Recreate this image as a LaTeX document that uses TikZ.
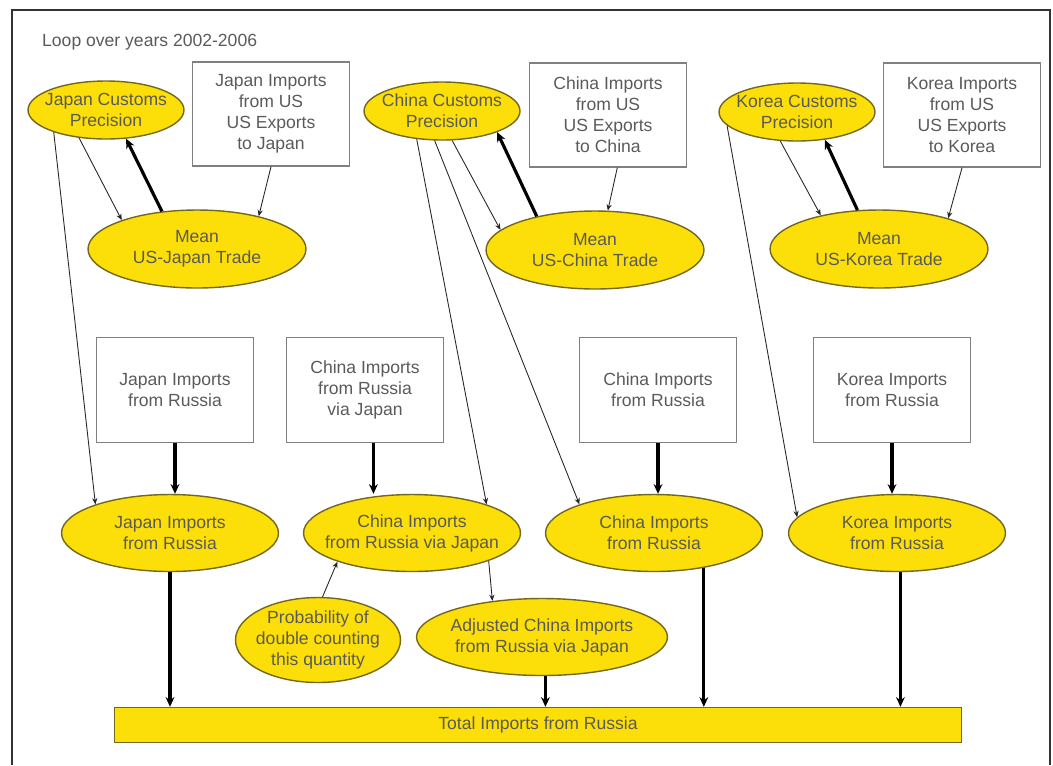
\documentclass[tikz,border=0pt]{standalone}
\usepackage{fontspec}
\setmainfont{Liberation Sans}
\usetikzlibrary{shapes.geometric,arrows.meta}
\definecolor{nodeYellow}{RGB}{252,222,8}
\definecolor{nodeBorder}{RGB}{115,105,30}
\definecolor{boxBorder}{RGB}{128,128,128}
\definecolor{labelGray}{RGB}{90,90,90}
\begin{document}
\begin{tikzpicture}
[x=0.02cm,y=-0.02cm,%
  thinLine/.style={-{Stealth[length=3.6pt,width=3pt]},line width=0.5pt,color=black!85},%
  thickLine/.style={-{Stealth[length=5.5pt,width=5pt]},line width=1.8pt,color=black},%
  ellDecorate/.style={shape=ellipse,draw=nodeBorder,fill=nodeYellow,line width=0.8pt,inner xsep=-7pt,inner ysep=-1pt,align=center,text=labelGray},%
  boxDecorate/.style={shape=rectangle,draw=boxBorder,line width=0.8pt,align=center,text=labelGray,minimum width=3.13cm},%
  font=\fontsize{10}{12}\selectfont]
\useasboundingbox (0,0) rectangle (1053,765);
%% frame and title
\draw[color=black!80,line width=0.8pt] (12,765) -- (12,10) -- (1050,10) -- (1050,765);
\node (title) at (36,42) [anchor=west,text=labelGray] {Loop over years 2002-2006};
%% customs precision
\foreach \nodename/\x/\y/\txt in {jcp/106/110/Japan Customs\\Precision, ccp/442/111/China Customs\\Precision, kcp/797/112/Korea Customs\\Precision}
{
  \node (\nodename) at (\x,\y) [ellDecorate,minimum width=3.12cm,minimum height=1.16cm] {\txt};
}
%% US trade data
\foreach \nodename/\x/\y/\txt in {jus/271/114/Japan Imports\\from US\\US Exports\\to Japan, cus/608/115/China Imports\\from US\\US Exports\\to China, kus/962/115/Korea Imports\\from US\\US Exports\\to Korea}
{
  \node (\nodename) at (\x,\y) [boxDecorate,minimum height=2.08cm] {\txt};
}
%% mean trade
\foreach \nodename/\x/\y/\txt in {jmean/197/249/Mean\\US-Japan Trade, cmean/595/250/Mean\\US-China Trade, kmean/879/249/Mean\\US-Korea Trade}
{
  \node (\nodename) at (\x,\y) [ellDecorate,minimum width=4.36cm,minimum height=1.56cm] {\txt};
}
%% russia data
\foreach \nodename/\x/\y/\txt in {jrbox/175/390/Japan Imports\\from Russia, cvjbox/365/390/China Imports\\from Russia\\via Japan, crbox/658/390/China Imports\\from Russia, krbox/892/390/Korea Imports\\from Russia}
{
  \node (\nodename) at (\x,\y) [boxDecorate,minimum height=2.1cm] {\txt};
}
%% russia imports
\foreach \nodename/\x/\y/\txt in {jir/170/533/Japan Imports\\from Russia, cvj/412/533/China Imports\\from Russia via Japan, cir/654/533/China Imports\\from Russia, kir/897/533/Korea Imports\\from Russia}
{
  \node (\nodename) at (\x,\y) [ellDecorate,minimum width=4.34cm,minimum height=1.54cm] {\txt};
}
\node (prob) at (318,640) [ellDecorate,minimum width=3.3cm,minimum height=1.7cm] {Probability of\\double counting\\this quantity};
\node (adj) at (542,637) [ellDecorate,minimum width=5.02cm,minimum height=1.54cm] {Adjusted China Imports\\from Russia via Japan};
\node (total) at (538,725) [shape=rectangle,draw=nodeBorder,fill=nodeYellow,line width=0.8pt,text=labelGray,minimum width=16.94cm,minimum height=0.7cm] {Total Imports from Russia};
%% thin arrows
\path
\foreach \startnode/\endnode in {jcp.203/jir.159, jcp.226/jmean.159, jus.south/jmean.28, ccp.228/cvj.21, ccp.256/cir.159, ccp.289/cmean.168, cus.280/cmean.72, kcp.191/kir.171, kcp.240/kmean.150, kus.south/kmean.24, prob.84/cvj.201, cvj.340/adj.144}
{
  (\startnode) edge[thinLine] (\endnode)
};
%% thick arrows
\path
\foreach \startnode/\endnode in {jmean.133/jcp.305, cmean.150/ccp.339, kmean.119/kcp.315, jrbox.south/jrbox.south |- jir.north, cvjbox.279/cvjbox.279 |- cvj.north, crbox.south/crbox.south |- cir.north, krbox.south/krbox.south |- kir.north, jir.south/jir.south |- total.north, adj.275/adj.275 |- total.north, cir.325/cir.325 |- total.north, kir.275/kir.275 |- total.north}
{
  (\startnode) edge[thickLine] (\endnode)
};
\end{tikzpicture}
\end{document}
